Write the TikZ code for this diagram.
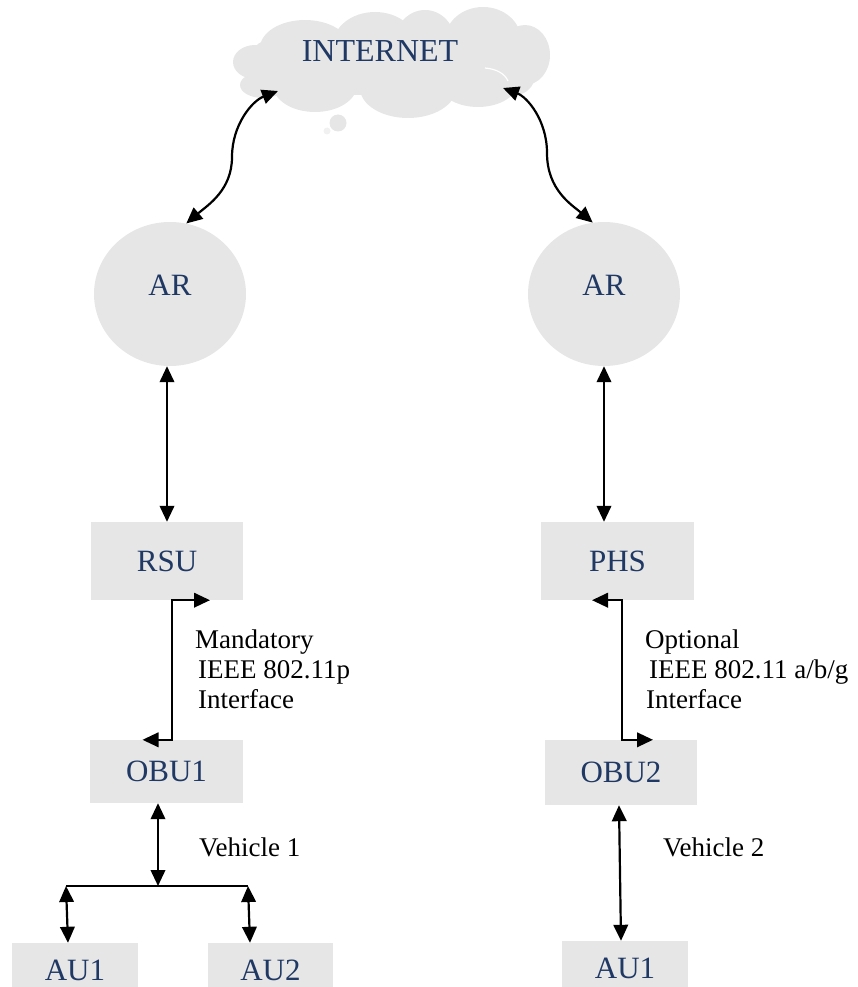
\documentclass[tikz,border=0pt]{standalone}
\usepackage{fontspec}
\setmainfont{Liberation Serif}
\usetikzlibrary{shapes.geometric,arrows.meta,calc}
\definecolor{boxgray}{HTML}{E6E6E6}
\definecolor{navy}{HTML}{1F3864}
\begin{document}
\begin{tikzpicture}[x=1pt,y=-1pt,
  box/.style={rectangle, fill=boxgray, inner sep=0pt, text=navy, font=\fontsize{31}{36}\selectfont},
  arnode/.style={ellipse, fill=boxgray, minimum width=152pt, minimum height=144pt, inner sep=0pt},
  nodetext/.style={inner sep=0pt, text=navy, font=\fontsize{31}{36}\selectfont},
  lbl/.style={font=\fontsize{27}{30}\selectfont, align=left, inner sep=0pt, anchor=north west},
  vlbl/.style={font=\fontsize{27}{30}\selectfont, inner sep=0pt, anchor=base west},
  arr/.style={{Triangle[length=16pt,width=14.5pt]}-{Triangle[length=16pt,width=14.5pt]}, line width=2.2pt},
  busline/.style={line width=1.3pt},
  puff/.style={fill=boxgray}]
\useasboundingbox (0,0) rectangle (857,987);
\clip (0,0) rectangle (857,987);

% cloud drawn as a union of puffs
\fill[puff, rounded corners=20pt] (250,40) rectangle (535,95);
\fill[puff] (255,62) ellipse [x radius=22, y radius=17];
\fill[puff] (263,85) ellipse [x radius=23, y radius=13];
\fill[puff] (305,48) ellipse [x radius=45, y radius=28];
\fill[puff] (375,45) ellipse [x radius=42, y radius=33];
\fill[puff] (425,42) ellipse [x radius=30, y radius=32];
\fill[puff] (483,40) ellipse [x radius=38, y radius=33];
\fill[puff] (525,55) ellipse [x radius=25, y radius=30];
\fill[puff] (478,82) ellipse [x radius=40, y radius=25];
\fill[puff] (408,88) ellipse [x radius=48, y radius=30];
\fill[puff] (315,85) ellipse [x radius=42, y radius=27];
\draw[white, line width=1.2pt] (485,68) .. controls (497,69) and (505,74) .. (508,81);
\fill[puff] (338,123) circle (8.5);
\fill[boxgray!55] (327,131) circle (3.5);
\node[inner sep=0pt, text=navy, font=\fontsize{32}{36}\selectfont, anchor=base] (inet) at (380,62) {INTERNET};
\coordinate (cL) at (278,91);
\coordinate (cR) at (503,88);

% access routers
\node[arnode] (arL) at (170,294) {};
\node[nodetext] (arLt) at (170,285) {AR};
\node[arnode] (arR) at (604,294) {};
\node[nodetext] (arRt) at (604,285) {AR};

% boxes
\node[box, minimum width=152pt, minimum height=78pt] (rsu) at (167,561) {RSU};
\node[box, minimum width=153pt, minimum height=78pt] (phs) at (617.5,561) {PHS};
\node[box, minimum width=153pt, minimum height=63pt] (obu1) at (166.5,771.5) {OBU1};
\node[box, minimum width=152pt, minimum height=65pt] (obu2) at (621,772.5) {OBU2};
\node[box, minimum width=126pt, minimum height=54pt] (au1) at (75,970) {AU1};
\node[box, minimum width=125pt, minimum height=54pt] (au2) at (270.5,970) {AU2};
\node[box, minimum width=126pt, minimum height=54pt] (au1r) at (625,968) {AU1};

% cloud to AR
\draw[arr] (arL.77) .. controls (208,205) and (232,190) .. (232,157)
           .. controls (232,125) and (252,101) .. (cL);
\draw[arr] (arR.99) .. controls (572,205) and (547,190) .. (547,153)
           .. controls (547,120) and (527,97) .. (cR);

% AR to RSU / PHS
\draw[arr] (rsu.north |- arL.south) -- (rsu.north);
\draw[arr] (arR.south) -- (arR.south |- phs.north);

% RSU - OBU1
\draw[arr] ([xshift=43pt]rsu.south) -- ([xshift=5pt]rsu.south)
           -- ([xshift=5pt]rsu.south |- obu1.north) -- ([xshift=-24pt]obu1.north);
% PHS - OBU2
\draw[arr] ([xshift=-25.5pt]phs.south) -- ([xshift=4.5pt]phs.south)
           -- ([xshift=4.5pt]phs.south |- obu2.north) -- ([xshift=32pt]obu2.north);

% vehicle 1 bus
\coordinate (busC) at (158,886);
\coordinate (busL) at (66,886);
\coordinate (busR) at (248,886);
\draw[busline] (busL) -- (busR);
\draw[arr] ([xshift=-8.5pt]obu1.south) -- (busC);
\draw[arr] (busL) -- ([xshift=-7pt]au1.north);
\draw[arr] (busR) -- ([xshift=-20.5pt]au2.north);

% vehicle 2
\draw[arr] ([xshift=-2pt]obu2.south) -- ([xshift=-4pt]au1r.north);

% labels
\node[lbl] (lblL) at (195,629.5) {Mandatory\\\hspace*{3pt}IEEE 802.11p\\\hspace*{3pt}Interface};
\node[lbl] (lblR) at (645,629.5) {Optional\\\hspace*{4pt}IEEE 802.11 a/b/g\\\hspace*{1pt}Interface};
\node[vlbl] (v1) at (199,856) {Vehicle 1};
\node[vlbl] (v2) at (663,856) {Vehicle 2};
\end{tikzpicture}
\end{document}
